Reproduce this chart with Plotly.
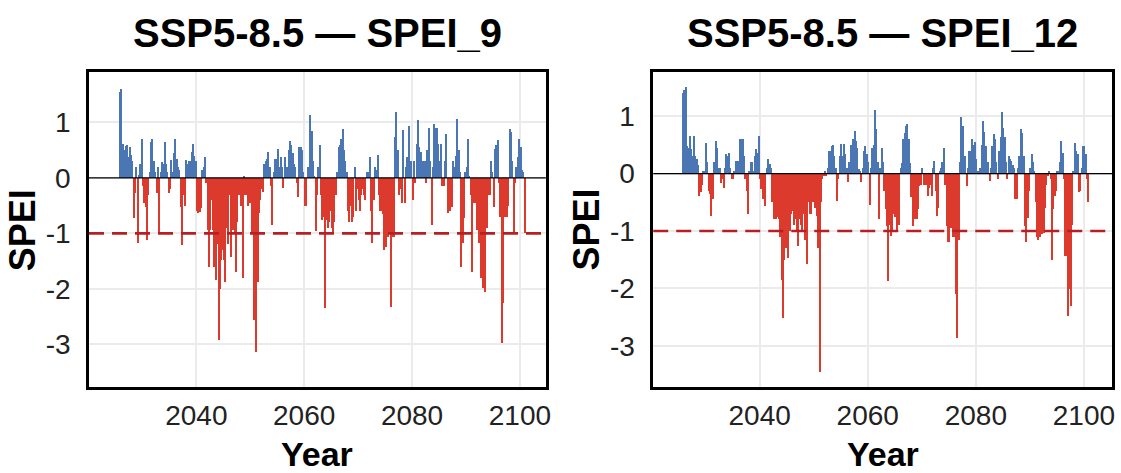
import plotly.graph_objects as go

# Quarterly SPEI values, first value = 2025 Q4, then 4 per year up to 2100
start_year = 2025.75
step = 0.25

spei9 = [
    1.55,
    1.60, 0.62, 0.50, 0.58,      # 2026
    0.60, 0.38, 0.56, 0.42,      # 2027
    0.30, -0.73, -0.28, 0.19,    # 2028
    -1.18, 0.05, 0.26, 0.70,     # 2029
    -0.15, -0.45, -0.52, -1.12,  # 2030
    -0.30, 0.10, 0.65, 0.70,     # 2031
    0.30, 0.10, -0.28, 0.20,     # 2032
    -1.00, 0.10, 0.29, 0.25,     # 2033
    0.65, 0.25, 0.10, -0.28,     # 2034
    -0.20, 0.32, 0.10, 0.45,     # 2035
    0.70, 0.35, 0.20, 0.15,      # 2036
    -0.52, -1.21, -0.30, -0.50,  # 2037
    0.33, 0.25, 0.30, 0.30,      # 2038
    0.47, 0.62, 0.40, 0.30,      # 2039
    -0.60, -0.64, -0.62, -0.55,  # 2040
    0.15, 0.20, 0.37, -0.10,     # 2041
    -0.94, -1.60, -0.94, -0.40,  # 2042
    -0.94, -1.60, -1.84, -1.20,  # 2043
    -2.92, -2.00, -1.48, -1.30,  # 2044
    -1.48, -1.87, -0.90, -1.20,  # 2045
    -0.30, -1.42, -0.94, -0.94,  # 2046
    -1.00, -1.69, -0.80, -0.30,  # 2047
    -0.30, -0.50, -1.80, 0.02,   # 2048
    -0.30, -0.30, -0.50, -0.45,  # 2049
    -0.45, -1.00, -2.56, -2.20,  # 2050
    -3.13, -1.87, -0.64, -0.40,  # 2051
    -0.20, -0.25, 0.25, 0.30,    # 2052
    0.35, 0.47, 0.20, -0.15,     # 2053
    -0.85, 0.10, 0.35, 0.35,     # 2054
    0.53, 0.20, 0.38, 0.20,      # 2055
    -0.18, 0.38, 0.20, 0.20,     # 2056
    0.50, 0.66, 0.60, 0.45,      # 2057
    0.25, 0.20, -0.10, -0.35,    # 2058
    0.55, 0.55, 0.50, 0.10,      # 2059
    -0.50, -0.50, 0.20, 0.20,    # 2060
    1.13, 0.85, 0.30, 0.02,      # 2061
    -0.95, -0.30, 0.20, 0.60,    # 2062
    -0.30, -0.76, -0.70, -2.35,  # 2063
    -0.76, -0.90, -0.80, -0.60,  # 2064
    -0.90, -1.00, -0.80, -0.30,  # 2065
    0.10, 0.55, 0.60, 0.70,      # 2066
    0.88, 0.50, 0.30, 0.10,      # 2067
    -0.60, -0.80, -0.50, -0.80,  # 2068
    -0.70, 0.20, -0.60, -0.20,   # 2069
    -0.40, -0.60, -0.30, -0.20,  # 2070
    -0.30, -0.40, 0.10, 0.10,    # 2071
    0.38, -0.60, -1.18, -0.40,   # 2072
    0.20, 0.15, 0.41, -0.30,     # 2073
    -0.60, -0.60, -0.65, -1.30,  # 2074
    -1.24, -0.90, -1.06, -1.00,  # 2075
    -2.32, -1.06, -1.06, 0.74,   # 2076
    1.19, 0.50, -0.30, -0.20,    # 2077
    -0.46, 0.86, -0.46, 0.20,    # 2078
    0.38, 0.93, 0.30, 0.30,      # 2079
    -0.40, 0.30, -0.10, 0.62,    # 2080
    1.05, 0.56, 0.47, 0.30,      # 2081
    0.30, 0.30, -0.10, 0.50,     # 2082
    0.90, 0.30, -0.85, 0.20,     # 2083
    0.98, 0.90, 0.90, 0.62,      # 2084
    0.30, 0.62, -0.15, -0.15,    # 2085
    0.30, 0.80, -0.64, -0.30,    # 2086
    -0.60, -0.52, 0.30, 0.20,    # 2087
    0.40, 1.07, 0.50, 0.10,      # 2088
    -1.60, -1.18, -0.73, 0.10,   # 2089
    0.20, 0.70, 0.02, -0.30,     # 2090
    -1.69, -0.46, -0.46, -0.30,  # 2091
    -0.94, -1.18, -0.94, -1.80,  # 2092
    -1.99, -0.30, -2.05, -0.90,  # 2093
    -0.30, -0.30, 0.30, 0.10,    # 2094
    -0.52, 0.53, 0.60, 0.69,     # 2095
    -0.10, -0.70, -2.98, -2.26,  # 2096
    -0.70, -0.70, -0.70, -0.50,  # 2097
    0.89, 0.83, 0.30, -1.00,     # 2098
    -0.10, 0.20, 0.38, 0.70,     # 2099
    0.56, 0.15, 0.10, -1.00,     # 2100
]

spei12 = [
    1.40,
    1.45, 1.50, 0.48, 0.45,      # 2026
    0.66, 0.43, 0.30, 0.66,      # 2027
    0.31, 0.25, 0.15, -0.39,     # 2028
    -0.33, -0.20, 0.05, 0.05,    # 2029
    0.54, 0.20, -0.30, -0.35,    # 2030
    -0.74, -0.45, 0.20, 0.57,    # 2031
    0.45, 0.10, 0.10, -0.16,     # 2032
    -0.10, -0.25, 0.10, 0.34,    # 2033
    0.30, 0.36, 0.10, -0.10,     # 2034
    -0.10, 0.05, 0.22, 0.22,     # 2035
    0.22, 0.60, 0.60, 0.60,      # 2036
    0.30, -0.10, -0.30, -0.71,   # 2037
    0.05, 0.20, 0.20, 0.05,      # 2038
    0.30, 0.43, 0.35, 0.66,      # 2039
    -0.10, -0.27, -0.45, -0.40,  # 2040
    -0.57, 0.10, 0.25, 0.16,     # 2041
    0.10, -0.50, -0.80, -0.74,   # 2042
    -0.80, -0.76, -0.80, -1.10,  # 2043
    -1.85, -2.52, -1.50, -1.30,  # 2044
    -1.30, -1.47, -1.00, -0.70,  # 2045
    -0.65, -0.90, -0.80, -1.00,  # 2046
    -1.27, -0.80, -0.90, -1.00,  # 2047
    -0.70, -1.15, -0.90, -1.57,  # 2048
    -0.50, -0.70, -0.70, -0.50,  # 2049
    -0.40, -0.60, -0.74, -1.30,  # 2050
    -3.46, -0.50, -0.10, -0.05,  # 2051
    0.05, -0.05, 0.10, 0.40,     # 2052
    0.40, 0.48, 0.50, 0.30,      # 2053
    0.10, -0.48, -0.10, 0.30,    # 2054
    0.51, 0.30, 0.51, 0.34,      # 2055
    0.10, -0.15, 0.20, 0.50,     # 2056
    0.40, 0.60, 0.75, 0.57,      # 2057
    0.45, 0.08, 0.05, -0.15,     # 2058
    0.10, 0.40, 0.48, 0.34,      # 2059
    0.20, -0.54, 0.10, 0.45,     # 2060
    0.50, 1.10, 0.78, 0.20,      # 2061
    -0.80, 0.10, 0.45, 0.20,     # 2062
    -0.30, -0.62, -0.92, -1.88,  # 2063
    -0.90, -1.09, -1.00, -0.70,  # 2064
    -0.75, -1.00, -0.80, -0.90,  # 2065
    0.10, 0.19, 0.60, 0.70,      # 2066
    0.83, 0.86, 0.60, 0.19,      # 2067
    -0.40, -0.92, -0.70, -0.80,  # 2068
    -0.80, -0.62, -0.22, -0.20,  # 2069
    0.10, -0.20, -0.10, -0.20,   # 2070
    -0.39, -0.25, -0.20, -0.39,  # 2071
    0.10, 0.22, -0.30, -0.74,    # 2072
    -0.60, 0.05, 0.10, 0.20,     # 2073
    0.45, -0.20, -0.92, -1.20,   # 2074
    -1.20, -0.95, -0.80, -1.10,  # 2075
    -1.10, -2.10, -2.87, -1.16,  # 2076
    0.20, 0.98, 0.83, 0.10,      # 2077
    0.30, -0.22, 0.10, 0.40,     # 2078
    0.40, 0.60, 0.50, 0.55,      # 2079
    0.25, 0.05, 0.05, 0.10,      # 2080
    0.50, 0.92, 0.72, 0.48,      # 2081
    0.20, 0.20, -0.13, 0.10,     # 2082
    0.48, 0.69, 0.60, 0.20,      # 2083
    -0.10, 0.40, 0.63, 1.08,     # 2084
    0.80, 0.63, 0.20, -0.10,     # 2085
    0.31, 0.25, 0.22, 0.15,      # 2086
    0.10, -0.45, -0.45, 0.10,    # 2087
    0.30, 0.78, 0.70, 0.30,      # 2088
    -0.92, -1.20, -0.77, -0.30,  # 2089
    0.10, 0.34, 0.20, 0.05,      # 2090
    -0.50, -1.10, -1.16, -1.10,  # 2091
    -0.90, -1.05, -1.03, -0.60,  # 2092
    -0.20, -0.05, 0.05, -0.10,   # 2093
    -1.50, -0.62, -0.39, -0.30,  # 2094
    0.05, 0.05, 0.20, 0.57,      # 2095
    0.35, -0.10, -1.44, -1.44,   # 2096
    -2.49, -2.02, -2.31, -0.90,  # 2097
    0.05, 0.54, 0.40, 0.34,      # 2098
    -0.33, -0.30, 0.10, 0.48,    # 2099
    0.48, 0.34, -0.10, -0.50,    # 2100
]

panel_titles = ["SSP5-8.5 \u2014 SPEI_9", "SSP5-8.5 \u2014 SPEI_12"]
x_ticks = [2040, 2060, 2080, 2100]
y_ticks = [-3, -2, -1, 0, 1]
y_ticktext = ["-3", "-2", "-1", "0", "1"]
drought_threshold = -1

BLUE = "#4a77b4"
RED = "#dc3a2c"
DASH_RED = "#b81f24"
FONT = "Liberation Sans, Arial, sans-serif"


def xs(values):
    return [start_year + step * i + step / 2 for i in range(len(values))]


def colors(values):
    return [BLUE if v >= 0 else RED for v in values]


fig = go.Figure()
for values, xa, ya in [(spei9, "x", "y"), (spei12, "x2", "y2")]:
    fig.add_trace(go.Bar(
        x=xs(values), y=values, width=step * 0.8,
        marker=dict(color=colors(values), line=dict(width=0)),
        xaxis=xa, yaxis=ya, showlegend=False, hoverinfo="x+y",
    ))

W, H = 1121, 473
ml, mr, mt, mb = 89, 4, 72, 86
pw = W - ml - mr
ph = H - mt - mb
left_dom = [0, (548 - ml) / pw]
right_dom = [(656 - ml) / pw, 1]

axis_common = dict(
    showgrid=True, gridcolor="#ebebeb", gridwidth=1.6,
    showline=True, mirror=True, linecolor="black", linewidth=2.5,
    zeroline=False, ticks="outside", tickcolor="rgba(0,0,0,0)",
    tickfont=dict(family=FONT, size=28, color="#222"),
)

fig.update_layout(
    width=W, height=H,
    margin=dict(l=ml, r=mr, t=mt, b=mb),
    paper_bgcolor="white", plot_bgcolor="white",
    bargap=0,
    font=dict(family=FONT, color="black"),
    xaxis=dict(domain=left_dom, range=[2020.1, 2104.8], tickvals=x_ticks,
               anchor="y", ticklen=2, **axis_common),
    yaxis=dict(domain=[0, 1], range=[-3.77, 1.91], tickvals=y_ticks,
               ticktext=y_ticktext, anchor="x", ticklen=10, **axis_common),
    xaxis2=dict(domain=right_dom, range=[2020.3, 2105.2], tickvals=x_ticks,
                anchor="y2", ticklen=2, **axis_common),
    yaxis2=dict(domain=[0, 1], range=[-3.72, 1.77], tickvals=y_ticks,
                ticktext=y_ticktext, anchor="x2", ticklen=10, **axis_common),
)

shapes = []
for xa, ya in [("x", "y"), ("x2", "y2")]:
    shapes.append(dict(type="line", xref=f"{xa} domain", yref=ya, x0=0, x1=1,
                       y0=0, y1=0, line=dict(color="black", width=1.2), layer="above"))
    shapes.append(dict(type="line", xref=f"{xa} domain", yref=ya, x0=0, x1=1,
                       y0=drought_threshold, y1=drought_threshold,
                       line=dict(color=DASH_RED, width=2.6, dash="15px,8px"), layer="above"))
fig.update_layout(shapes=shapes)


def px_x(p):
    return (p - ml) / pw


def px_y(p):
    return (H - mb - p) / ph


ann = []
for dom, title in zip([left_dom, right_dom], panel_titles):
    cx = (dom[0] + dom[1]) / 2
    ann.append(dict(text=f"<b>{title}</b>", x=cx, y=px_y(33), xref="paper", yref="paper",
                    xanchor="center", yanchor="middle", showarrow=False,
                    font=dict(family=FONT, size=40, color="black")))
    ann.append(dict(text="<b>Year</b>", x=cx, y=px_y(454), xref="paper", yref="paper",
                    xanchor="center", yanchor="middle", showarrow=False,
                    font=dict(family=FONT, size=34, color="black")))
for sx in [22, 588]:
    ann.append(dict(text="<b>SPEI</b>", x=px_x(sx), y=px_y(230), xref="paper", yref="paper",
                    xanchor="center", yanchor="middle", showarrow=False, textangle=-90,
                    font=dict(family=FONT, size=36, color="black")))
fig.update_layout(annotations=ann)

fig.write_html("out.html", config={"displayModeBar": False})
